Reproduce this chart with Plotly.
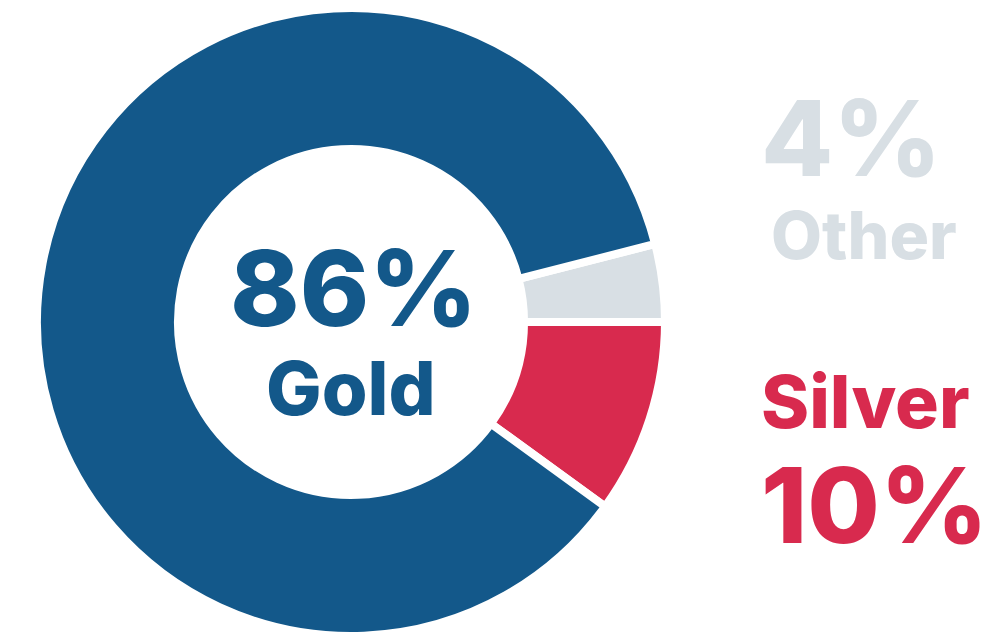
import plotly.graph_objects as go

labels = ["Other", "Silver", "Gold"]
values = [4, 10, 86]
colors = ["#d8dfe4", "#d82a4e", "#13588a"]

W, H = 995, 636

fig = go.Figure()
fig.add_trace(go.Pie(
    labels=labels,
    values=values,
    sort=False,
    direction="clockwise",
    rotation=90 - 360 * values[0] / sum(values),
    hole=0.551,
    marker=dict(colors=colors, line=dict(color="white", width=8)),
    textinfo="none",
    hoverinfo="label+percent",
    showlegend=False,
    domain=dict(x=[37 / W, 665 / W], y=[0, 628 / H]),
))

FONT = "Inter"


def px(x, y):
    return x / W, 1 - y / H


annots = [
    # text, x(px), y(px), size, color, xanchor
    (f"{values[2]}%", 353, 287, 105, colors[2], "center"),
    (labels[2], 351, 388, 74, colors[2], "center"),
    (f"{values[0]}%", 759, 137, 105, colors[0], "left"),
    (labels[0], 769, 235, 66, colors[0], "left"),
    (labels[1], 759, 401, 73, colors[1], "left"),
    (f"{values[1]}%", 759, 504, 105, colors[1], "left"),
]
for t, x, y, s, c, xa in annots:
    xp, yp = px(x, y)
    fig.add_annotation(
        text=t, x=xp, y=yp, xref="paper", yref="paper",
        xanchor=xa, yanchor="middle", showarrow=False,
        font=dict(family=FONT, size=s, color=c, weight=800),
    )

fig.update_layout(
    width=W, height=H,
    margin=dict(l=0, r=0, t=0, b=0),
    paper_bgcolor="white",
    plot_bgcolor="white",
)

fig.write_html("out.html")
